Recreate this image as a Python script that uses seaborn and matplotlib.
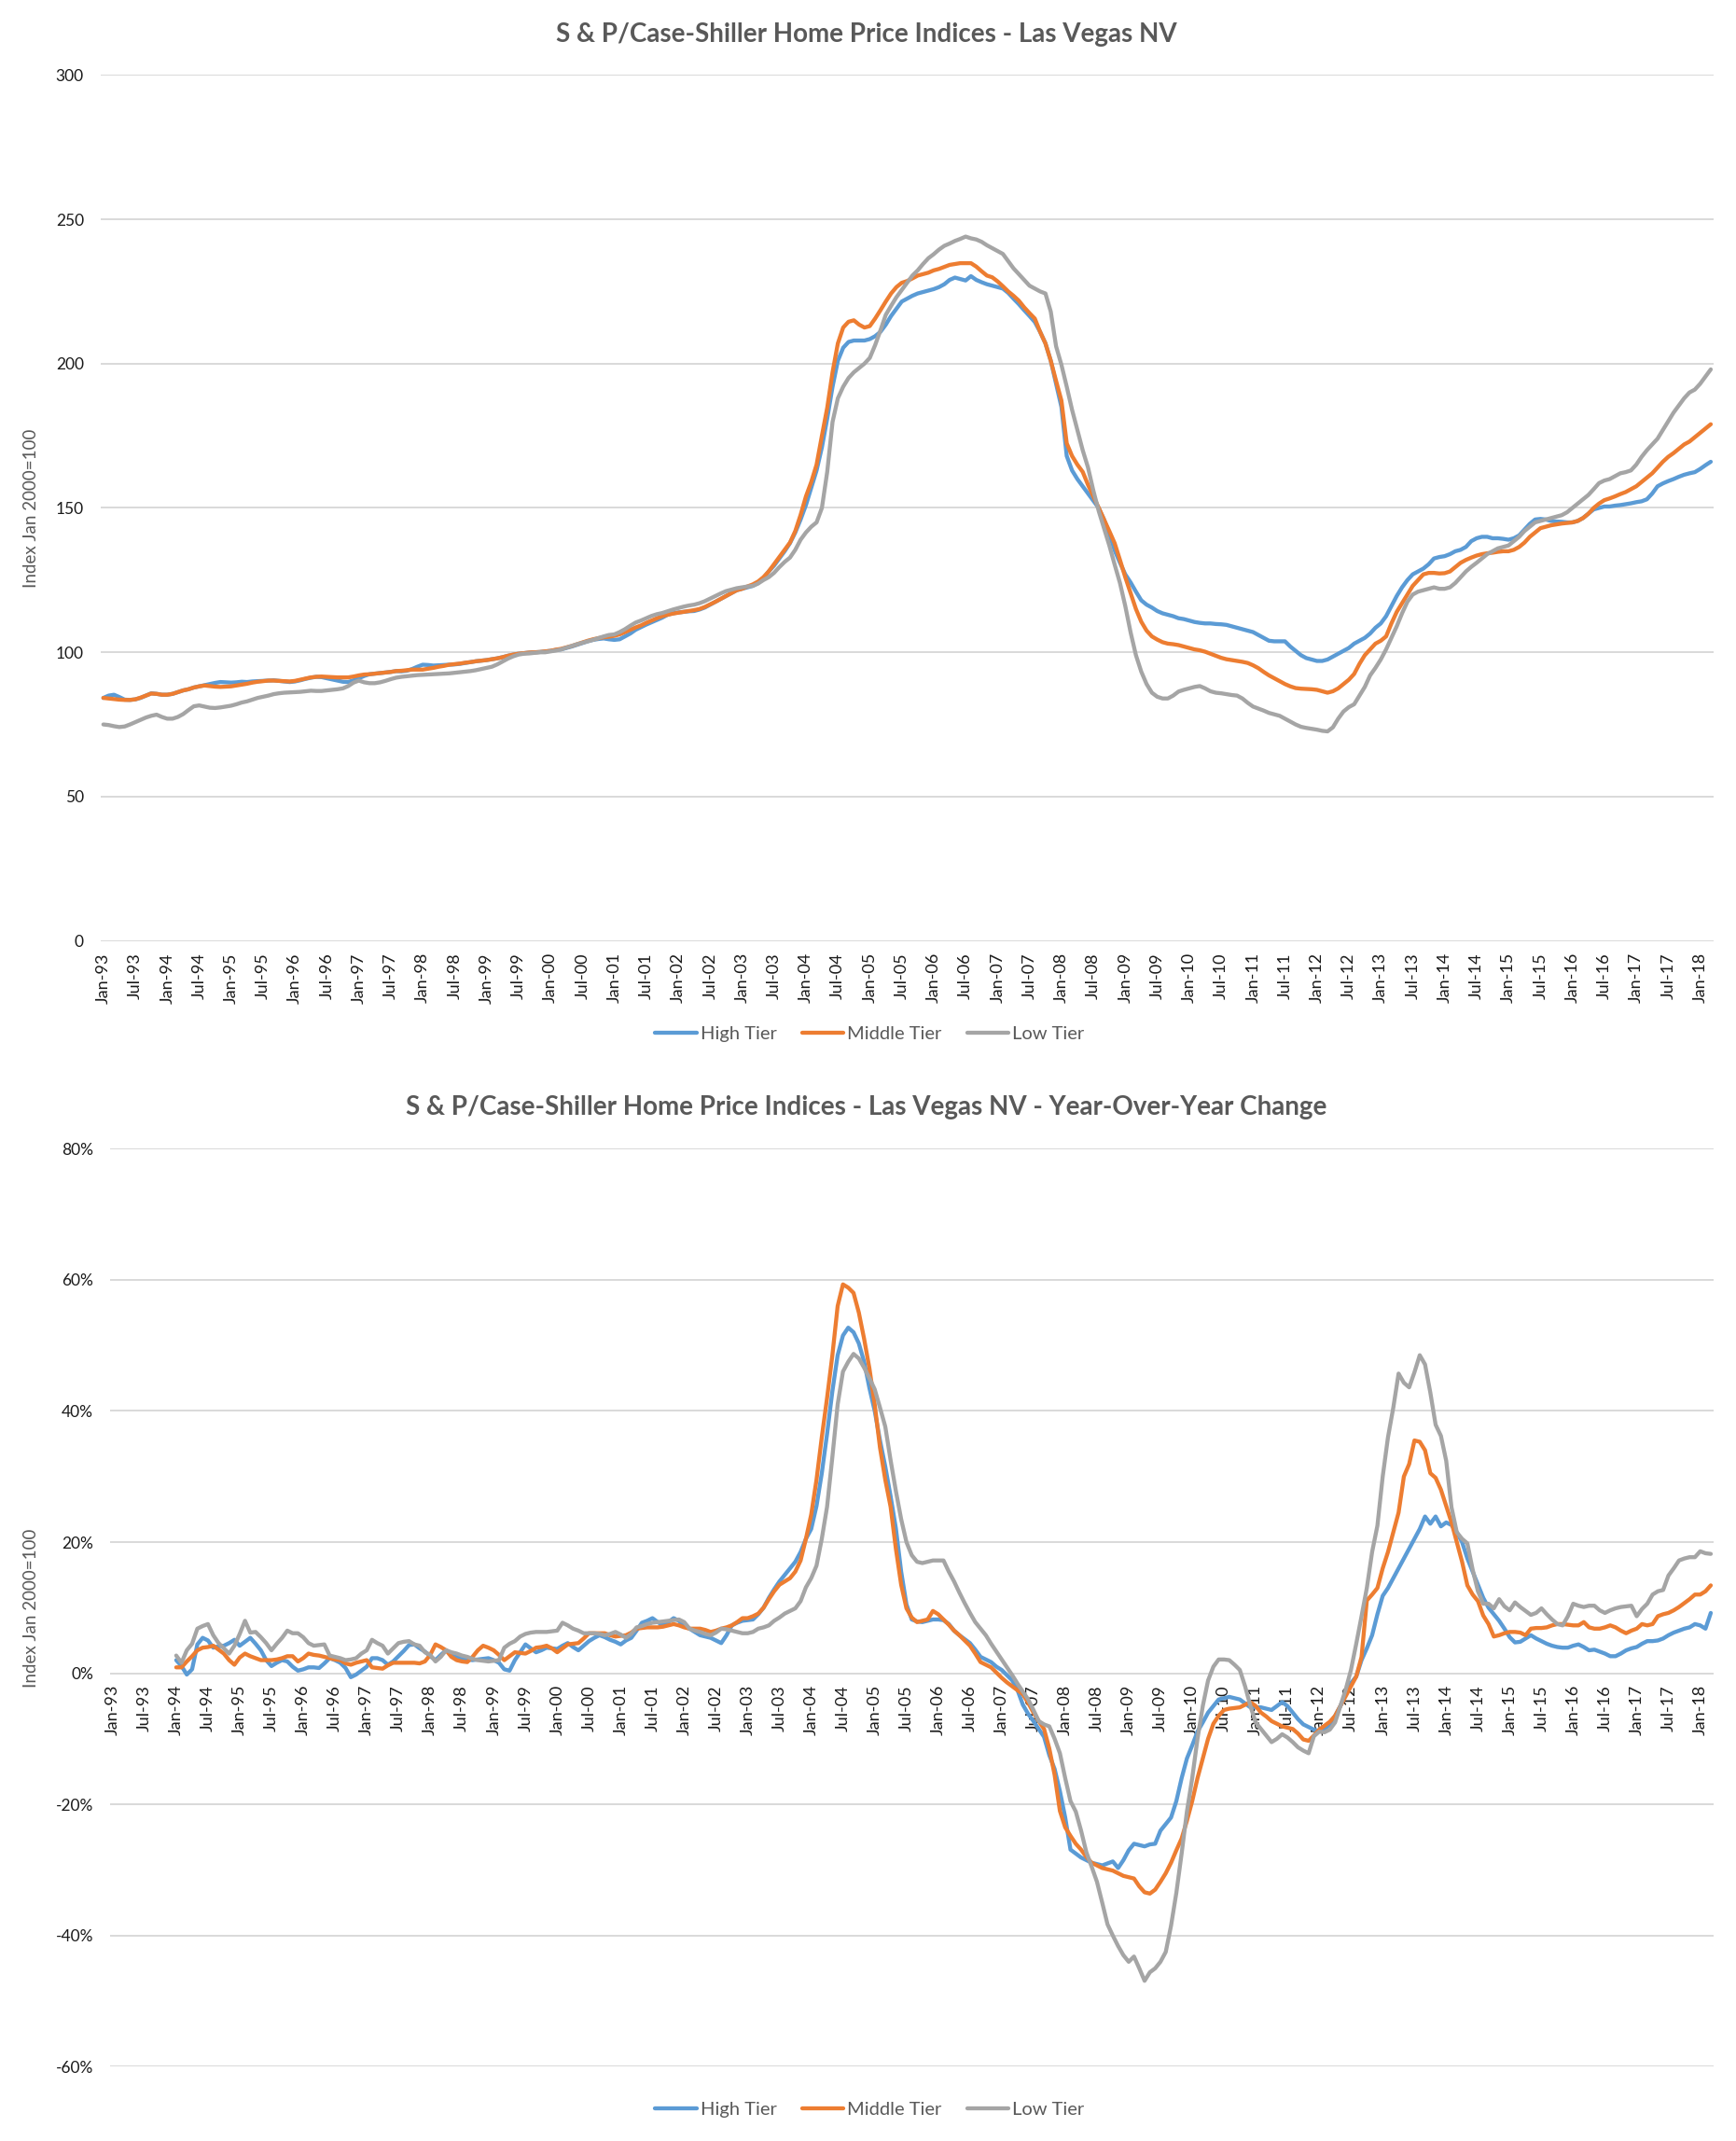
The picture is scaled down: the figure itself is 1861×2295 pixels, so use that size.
import matplotlib
matplotlib.use("Agg")
import matplotlib.pyplot as plt
from matplotlib.lines import Line2D
import seaborn as sns
import pandas as pd

# monthly index values, Jan-93 .. Mar-18
high_tier = [
    84.2, 85.0, 85.3, 84.5, 83.6, 83.5, 83.7, 84.2, 85.0, 85.8, 85.6, 85.3,
    85.3, 85.6, 86.2, 86.8, 87.2, 87.8, 88.2, 88.6, 89.0, 89.4, 89.7, 89.6,
    89.5, 89.6, 89.8, 89.7, 89.9, 90.0, 90.1, 90.2, 90.3, 90.1, 89.9, 89.7,
    89.9, 90.3, 90.8, 91.2, 91.5, 91.4, 91.0, 90.6, 90.2, 89.8, 89.7, 90.3,
    91.0, 91.8, 92.4, 92.6, 92.8, 93.0, 93.2, 93.5, 93.4, 93.6, 94.2, 95.0,
    95.7, 95.6, 95.4, 95.5, 95.6, 95.7, 95.8, 96.0, 96.3, 96.6, 96.9, 97.1,
    97.3, 97.6, 97.9, 98.3, 98.8, 99.2, 99.5, 99.7, 99.9, 100.0, 100.1, 100.3,
    100.5, 100.8, 101.0, 101.5, 102.0, 102.6, 103.2, 103.8, 104.3, 104.6, 104.8, 104.5,
    104.3, 104.5, 105.5, 106.5, 107.8, 108.7, 109.6, 110.4, 111.2, 112.0, 113.0, 113.5,
    113.8, 114.0, 114.2, 114.3, 114.8, 115.5, 116.5, 117.5, 118.5, 119.5, 120.5, 121.5,
    122.0, 122.5, 123.0, 124.0, 125.5, 128.0, 130.0, 132.5, 135.0, 137.8, 141.5, 146.0,
    151.0, 157.0, 163.0, 171.0, 181.0, 192.0, 201.0, 205.5, 207.5, 208.0, 208.0, 208.0,
    208.5, 209.5, 211.0, 213.5, 216.5, 219.0, 221.5, 222.5, 223.5, 224.3, 224.8, 225.3,
    225.8, 226.5, 227.5, 229.0, 229.8, 229.3, 228.8, 230.3, 229.0, 228.2, 227.5, 227.0,
    226.5, 226.0, 224.5, 222.5, 220.6, 218.5, 216.5, 214.4, 211.0, 207.0, 201.0, 193.0,
    185.0, 168.0, 163.0, 160.0, 157.5, 155.0, 152.5, 150.0, 146.0, 141.0, 135.3, 131.0,
    127.0, 124.2, 121.0, 118.0, 116.5, 115.5, 114.3, 113.5, 113.0, 112.5, 111.8, 111.5,
    111.0, 110.5, 110.2, 110.0, 110.0, 109.8, 109.7, 109.5, 109.0, 108.5, 108.0, 107.5,
    107.0, 106.0, 105.0, 104.0, 103.8, 103.8, 103.8, 102.0, 100.5, 99.0, 98.0, 97.5,
    97.0, 97.0, 97.5, 98.5, 99.5, 100.5, 101.5, 103.0, 104.0, 105.0, 106.5, 108.5,
    110.0, 112.5, 116.0, 119.5, 122.5, 125.0, 127.0, 128.0, 129.0, 130.5, 132.5, 133.0,
    133.3, 134.0, 135.0, 135.5, 136.5, 138.5, 139.5, 140.0, 140.0, 139.5, 139.5, 139.3,
    139.0, 139.5, 140.5, 142.5, 144.5, 146.0, 146.2, 146.0, 145.5, 145.3, 145.2, 145.0,
    145.0, 145.5, 146.5, 148.0, 149.5, 150.0, 150.5, 150.5, 150.8, 151.0, 151.3, 151.6,
    152.0, 152.3, 153.0, 155.0, 157.5, 158.5, 159.3, 160.0, 160.8, 161.5, 162.0, 162.4,
    163.5, 164.8, 166.0,
]

middle_tier = [
    84.2, 84.0, 83.8, 83.6, 83.5, 83.5, 83.7, 84.3, 85.0, 85.7, 85.6, 85.3,
    85.3, 85.6, 86.2, 86.8, 87.2, 87.8, 88.2, 88.5, 88.3, 88.1, 88.0, 88.1,
    88.2, 88.5, 88.8, 89.1, 89.5, 89.8, 90.0, 90.2, 90.2, 90.1, 90.0, 89.9,
    90.1, 90.5, 90.9, 91.3, 91.5, 91.6, 91.5, 91.4, 91.3, 91.3, 91.3, 91.6,
    92.0, 92.3, 92.4, 92.6, 92.8, 93.0, 93.2, 93.5, 93.6, 93.8, 94.0, 94.0,
    94.0, 94.3, 94.6, 95.0, 95.3, 95.7, 95.9, 96.1, 96.4, 96.6, 96.9, 97.1,
    97.3, 97.6, 97.9, 98.3, 98.8, 99.2, 99.5, 99.7, 99.9, 100.0, 100.1, 100.3,
    100.5, 100.9, 101.2, 101.7, 102.2, 102.8, 103.4, 104.0, 104.5, 104.9, 105.2, 105.4,
    105.7, 106.2, 107.0, 107.8, 108.6, 109.3, 110.2, 111.0, 111.8, 112.5, 113.0, 113.4,
    113.7, 114.0, 114.3, 114.6, 115.0, 115.7, 116.6, 117.5, 118.5, 119.5, 120.5, 121.5,
    122.0, 122.8, 123.5, 124.5, 126.0, 128.0, 130.5, 133.0, 135.5, 138.0, 142.0, 147.6,
    154.0, 159.0, 165.0, 175.0, 184.7, 197.0, 207.0, 212.5, 214.5, 215.0, 213.5, 212.5,
    213.0, 215.6, 218.5, 221.5, 224.3, 226.5, 228.0, 228.6, 229.5, 230.5, 231.0, 231.5,
    232.3, 232.8, 233.5, 234.2, 234.5, 234.8, 234.8, 234.8, 233.6, 232.0, 230.5, 229.9,
    228.5, 226.8, 225.0, 223.5, 221.8, 219.5, 217.5, 215.6, 211.0, 207.0, 201.0, 194.0,
    187.2, 172.4, 168.0, 165.0, 162.5, 158.0, 154.0, 150.1, 146.0, 142.0, 137.8, 132.0,
    126.0, 120.5, 115.0, 110.6, 107.5, 105.5, 104.4, 103.5, 103.0, 102.8, 102.5, 102.0,
    101.5, 101.0, 100.7, 100.2, 99.5, 98.8, 98.1, 97.6, 97.3, 97.0, 96.7, 96.3,
    95.5, 94.5, 93.2, 92.0, 91.0, 90.0, 89.0, 88.2, 87.6, 87.4, 87.3, 87.2,
    87.0, 86.5, 86.0, 86.5, 87.5, 89.0, 90.5, 92.5, 96.0, 99.0, 101.0, 103.0,
    104.0, 105.5, 110.0, 114.0, 117.0, 120.0, 123.0, 125.0, 127.0, 127.5, 127.5, 127.3,
    127.4, 128.0, 129.5, 131.0, 132.0, 132.8, 133.5, 134.0, 134.3, 134.5, 134.8, 135.0,
    135.0, 135.5, 136.5, 138.0, 140.0, 141.5, 143.0, 143.5, 144.0, 144.3, 144.6, 144.8,
    145.0, 145.5, 146.5, 148.0, 150.0, 151.5, 152.7, 153.3, 154.0, 154.8, 155.5, 156.5,
    157.5, 159.0, 160.5, 162.0, 164.0, 166.0, 167.7, 169.0, 170.5, 172.0, 173.0, 174.5,
    176.0, 177.5, 179.0,
]

low_tier = [
    75.0, 74.8, 74.4, 74.1, 74.3, 75.0, 75.8, 76.6, 77.4, 78.0, 78.4, 77.6,
    77.0, 77.0, 77.6, 78.6, 80.0, 81.3, 81.6, 81.2, 80.8, 80.7, 80.9, 81.2,
    81.5, 82.0, 82.6, 83.0, 83.6, 84.2, 84.6, 85.0, 85.5, 85.8, 86.0, 86.1,
    86.2, 86.3, 86.5, 86.7, 86.6, 86.6, 86.8, 87.0, 87.2, 87.5, 88.3, 89.5,
    90.2, 89.6, 89.3, 89.3, 89.6, 90.1, 90.7, 91.2, 91.5, 91.7, 91.9, 92.1,
    92.2, 92.3, 92.4, 92.5, 92.6, 92.7, 92.9, 93.1, 93.3, 93.5, 93.8, 94.2,
    94.6, 95.0, 95.8, 96.8, 97.8, 98.6, 99.2, 99.5, 99.6, 99.8, 100.0, 100.0,
    100.3, 100.6, 101.0, 101.6, 102.2, 102.8, 103.3, 103.8, 104.3, 104.9, 105.5, 106.0,
    106.2, 107.0, 108.0, 109.2, 110.3, 111.0, 111.8, 112.6, 113.2, 113.6, 114.2, 114.8,
    115.3, 115.8, 116.2, 116.5, 117.0, 117.7, 118.6, 119.5, 120.4, 121.2, 121.7, 122.2,
    122.5, 122.8, 123.0, 123.8, 125.0, 126.0, 127.5, 129.5, 131.3, 132.8, 135.5, 139.0,
    141.5, 143.5, 145.0, 150.0, 162.5, 179.8, 188.0, 192.0, 195.0, 197.0, 198.5, 200.0,
    202.0, 206.4, 211.5, 216.9, 220.0, 223.0, 225.5, 228.0, 230.5, 232.3, 234.5, 236.5,
    237.9, 239.5, 240.8, 241.6, 242.5, 243.2, 244.0, 243.4, 243.0, 242.2, 241.0, 240.0,
    239.0, 238.0, 235.5, 233.0, 231.0, 229.0, 227.0, 226.0, 225.0, 224.3, 218.0, 206.0,
    199.6, 192.0, 184.0, 177.0, 170.0, 164.0, 156.0, 149.0, 143.0, 137.0, 130.4, 124.0,
    116.0, 106.9, 99.0, 93.3, 89.0, 86.0, 84.6, 84.0, 84.0, 85.0, 86.4, 87.0,
    87.5, 88.0, 88.3, 87.5, 86.5, 86.0, 85.8, 85.5, 85.2, 85.0, 84.0, 82.5,
    81.2, 80.5, 79.8, 79.0, 78.5, 78.0, 77.0, 76.0, 75.0, 74.2, 73.8, 73.5,
    73.2, 72.8, 72.6, 74.0, 77.0, 79.5, 81.0, 82.0, 85.0, 88.0, 92.0, 94.6,
    97.5, 101.0, 105.0, 109.0, 113.5, 117.5, 120.0, 121.0, 121.5, 122.0, 122.5, 122.0,
    122.0, 122.5, 124.0, 126.0, 128.0, 129.6, 131.0, 132.5, 134.0, 135.0, 136.0, 136.5,
    137.0, 138.5, 140.0, 142.0, 143.5, 145.0, 145.5, 146.0, 146.5, 147.0, 147.5, 148.5,
    150.0, 151.5, 153.0, 154.5, 156.5, 158.6, 159.5, 160.0, 161.0, 162.0, 162.4, 163.0,
    165.0, 167.7, 170.0, 172.0, 174.0, 177.0, 180.0, 183.0, 185.5, 188.0, 190.0, 191.0,
    193.0, 195.5, 198.0,
]

# year-over-year change in percent, Jan-94 .. Mar-18
high_yoy = [
    2.0, 1.1, -0.2, 0.6, 4.4, 5.4, 5.0, 3.9, 4.1, 4.2, 4.6, 5.1,
    4.2, 4.8, 5.4, 4.5, 3.5, 2.0, 1.1, 1.6, 2.0, 1.8, 1.0, 0.4,
    0.6, 0.9, 0.9, 0.8, 1.5, 2.3, 2.0, 1.6, 0.8, -0.6, -0.2, 0.4,
    1.0, 2.3, 2.3, 2.0, 1.3, 1.8, 2.6, 3.4, 4.3, 4.4, 3.8, 3.3,
    2.6, 2.0, 2.8, 3.5, 3.0, 2.5, 2.3, 2.1, 2.0, 2.1, 2.2, 2.3,
    2.0, 1.6, 0.6, 0.4, 2.0, 3.2, 4.4, 3.8, 3.2, 3.5, 3.9, 3.8,
    3.7, 4.2, 4.6, 4.0, 3.5, 4.2, 4.9, 5.4, 5.8, 5.5, 5.1, 4.8,
    4.4, 5.0, 5.4, 6.5, 7.7, 8.0, 8.4, 7.8, 7.3, 7.8, 8.4, 8.0,
    7.2, 6.8, 6.3, 5.8, 5.6, 5.4, 5.0, 4.6, 5.8, 7.3, 7.7, 8.0,
    8.1, 8.2, 9.0, 10.0, 11.5, 12.8, 14.0, 15.0, 16.0, 17.0, 18.5, 20.5,
    22.0, 25.5, 30.5, 36.5, 43.0, 48.5, 51.5, 52.7, 52.0, 50.3, 47.5, 43.5,
    40.0, 35.5, 31.5, 27.0, 22.1, 15.5, 10.5, 8.2, 7.9, 7.8, 8.0, 8.2,
    8.2, 8.1, 7.5, 6.5, 5.8, 5.2, 4.6, 3.6, 2.5, 2.1, 1.7, 1.0,
    0.5, -0.3, -1.1, -2.6, -4.8, -6.2, -7.3, -8.5, -9.7, -12.5, -14.6, -18.0,
    -22.0, -26.9, -27.5, -28.1, -28.5, -28.9, -29.1, -29.3, -29.0, -28.7, -29.7, -28.5,
    -27.0, -26.0, -26.2, -26.4, -26.1, -26.0, -24.0, -23.0, -22.0, -19.5, -16.0, -13.0,
    -11.0, -8.9, -7.5, -6.0, -5.0, -4.0, -3.8, -3.6, -3.8, -4.0, -4.6, -5.2,
    -5.2, -5.2, -5.4, -5.6, -5.0, -4.4, -5.0, -6.0, -7.0, -7.8, -8.2, -8.6,
    -8.8, -8.5, -7.8, -6.5, -5.0, -3.2, -1.5, -0.5, 2.0, 3.8, 5.8, 9.0,
    11.8, 13.0, 14.5, 16.0, 17.5, 19.0, 20.5, 22.0, 23.9, 22.8, 23.9, 22.4,
    23.0, 22.6, 21.5, 20.0, 17.5, 15.5, 13.5, 11.5, 10.0, 9.0, 8.0, 6.8,
    5.5, 4.7, 4.8, 5.3, 5.8, 5.3, 4.9, 4.5, 4.2, 4.0, 3.9, 3.9,
    4.2, 4.4, 4.0, 3.5, 3.6, 3.3, 3.0, 2.6, 2.6, 3.0, 3.5, 3.8,
    4.0, 4.5, 4.9, 4.9, 5.0, 5.3, 5.8, 6.2, 6.5, 6.8, 7.0, 7.5,
    7.3, 6.8, 9.2,
]

middle_yoy = [
    0.9, 0.9, 1.8, 2.6, 3.5, 3.9, 4.0, 4.2, 3.6, 3.0, 2.0, 1.3,
    2.4, 3.0, 2.6, 2.3, 2.0, 2.0, 2.0, 2.1, 2.3, 2.6, 2.6, 1.8,
    2.3, 3.0, 2.8, 2.7, 2.5, 2.3, 2.1, 2.0, 1.5, 1.3, 1.6, 1.8,
    2.0, 0.9, 0.8, 0.7, 1.2, 1.6, 1.6, 1.6, 1.6, 1.6, 1.5, 1.8,
    2.8, 4.4, 4.0, 3.5, 2.5, 2.0, 1.8, 1.7, 2.5, 3.5, 4.2, 3.9,
    3.5, 2.8, 2.0, 2.6, 3.2, 3.1, 3.0, 3.4, 3.9, 4.0, 4.2, 3.8,
    3.2, 3.8, 4.4, 4.5, 4.6, 5.3, 6.1, 6.1, 6.1, 6.1, 5.8, 5.6,
    5.7, 5.8, 6.2, 6.8, 6.9, 7.0, 7.0, 7.0, 7.1, 7.3, 7.5, 7.3,
    7.0, 6.8, 6.8, 6.8, 6.6, 6.3, 6.5, 6.8, 7.0, 7.3, 7.8, 8.4,
    8.4, 8.7, 9.1, 10.0, 11.3, 12.5, 13.5, 14.0, 14.5, 15.5, 17.2, 20.5,
    24.2, 29.5, 36.0, 42.0, 48.5, 56.0, 59.3, 58.8, 58.0, 55.0, 51.0, 46.5,
    41.0, 34.4, 29.5, 25.4, 19.0, 13.5, 9.9, 8.5, 7.8, 8.0, 8.2, 9.5,
    9.0, 8.2, 7.4, 6.5, 5.8, 5.0, 4.2, 3.0, 1.7, 1.3, 0.9, 0.1,
    -0.7, -1.4, -2.0, -2.6, -3.2, -4.5, -6.0, -7.3, -8.5, -11.5, -15.5, -21.0,
    -23.5, -24.8, -26.0, -26.9, -28.0, -28.9, -29.3, -29.7, -29.9, -30.1, -30.5, -30.9,
    -31.1, -31.3, -32.5, -33.4, -33.6, -33.0, -31.8, -30.5, -28.9, -27.0, -25.2, -22.5,
    -19.5, -16.0, -13.0, -10.0, -7.7, -6.5, -5.6, -5.4, -5.3, -5.2, -4.8, -4.4,
    -5.0, -6.0, -6.6, -7.3, -7.7, -8.1, -8.3, -8.5, -9.2, -10.1, -10.3, -9.5,
    -8.6, -8.0, -7.4, -6.5, -5.0, -3.5, -2.0, -0.5, 2.5, 11.1, 12.0, 13.0,
    16.0, 18.5, 21.5, 24.5, 30.0, 31.9, 35.5, 35.3, 34.0, 30.5, 29.8, 28.0,
    25.5, 23.0, 20.0, 17.0, 13.4, 12.0, 11.0, 8.8, 7.5, 5.6, 5.8, 6.1,
    6.3, 6.3, 6.2, 5.8, 6.8, 6.9, 6.9, 7.0, 7.3, 7.5, 7.5, 7.4,
    7.3, 7.3, 7.8, 7.0, 6.8, 6.8, 7.0, 7.3, 7.0, 6.5, 6.1, 6.5,
    6.8, 7.5, 7.3, 7.5, 8.7, 9.0, 9.2, 9.6, 10.1, 10.7, 11.3, 12.0,
    12.0, 12.5, 13.4,
]

low_yoy = [
    2.7, 1.6, 3.5, 4.5, 6.8, 7.2, 7.5, 5.8, 4.6, 3.8, 3.0, 4.2,
    6.0, 8.0, 6.2, 6.3, 5.5, 4.6, 3.5, 4.5, 5.4, 6.5, 6.1, 6.1,
    5.5, 4.6, 4.2, 4.3, 4.4, 2.7, 2.5, 2.3, 2.0, 2.1, 2.3, 3.0,
    3.5, 5.1, 4.6, 4.2, 3.0, 3.8, 4.6, 4.8, 4.9, 4.4, 4.2, 3.2,
    2.8, 1.8, 2.5, 3.5, 3.2, 3.0, 2.7, 2.5, 2.2, 2.0, 1.9, 1.8,
    1.9, 2.0, 3.9, 4.5, 4.9, 5.6, 6.0, 6.2, 6.3, 6.3, 6.3, 6.4,
    6.5, 7.7, 7.3, 6.8, 6.5, 6.1, 6.1, 6.1, 6.0, 5.8, 6.0, 6.3,
    5.9, 5.4, 6.0, 7.0, 7.2, 7.5, 7.7, 7.8, 7.9, 8.0, 8.1, 8.2,
    7.8, 6.8, 6.5, 6.3, 6.0, 5.8, 6.2, 6.8, 6.7, 6.5, 6.3, 6.1,
    6.1, 6.3, 6.8, 7.0, 7.3, 8.0, 8.5, 9.1, 9.5, 9.9, 11.0, 13.1,
    14.5, 16.4, 20.5, 25.4, 33.0, 41.0, 46.0, 47.5, 48.7, 48.0, 46.6, 45.0,
    43.3, 40.5, 37.6, 32.5, 27.8, 23.5, 20.0, 18.0, 17.0, 16.8, 17.0, 17.2,
    17.2, 17.2, 15.5, 14.0, 12.3, 10.7, 9.2, 7.8, 6.8, 5.8, 4.5, 3.3,
    2.1, 0.9, -0.3, -1.6, -2.8, -4.0, -5.6, -7.3, -7.8, -8.1, -10.0, -12.2,
    -16.0, -19.5, -21.1, -24.0, -27.3, -29.5, -31.8, -35.0, -38.3, -40.0, -41.6, -43.0,
    -44.0, -43.2, -45.0, -46.9, -45.6, -45.0, -44.0, -42.5, -38.5, -33.5, -27.5, -21.1,
    -16.0, -10.0, -5.0, -1.1, 1.0, 2.1, 2.1, 2.0, 1.3, 0.5, -2.0, -5.0,
    -7.5, -8.5, -9.5, -10.5, -10.0, -9.3, -9.8, -10.5, -11.3, -11.8, -12.2, -9.6,
    -8.9, -9.0, -8.6, -7.5, -5.0, -2.5, 0.5, 4.5, 8.7, 13.0, 18.5, 22.5,
    30.0, 36.0, 40.5, 45.7, 44.3, 43.6, 45.9, 48.5, 47.1, 42.8, 37.9, 36.2,
    32.4, 25.3, 21.5, 20.5, 19.8, 15.8, 12.5, 10.6, 10.6, 9.9, 11.3, 10.2,
    9.6, 10.8, 10.1, 9.5, 8.9, 9.2, 9.9, 9.0, 8.2, 7.5, 7.3, 8.7,
    10.6, 10.3, 10.1, 10.3, 10.3, 9.6, 9.2, 9.6, 9.9, 10.1, 10.2, 10.3,
    8.7, 9.8, 10.6, 12.0, 12.5, 12.7, 14.9, 16.0, 17.2, 17.5, 17.7, 17.7,
    18.6, 18.3, 18.2,
]

tiers = ["High Tier", "Middle Tier", "Low Tier"]
colors = {"High Tier": "#5B9BD5", "Middle Tier": "#ED7D31", "Low Tier": "#A5A5A5"}
pct_ticks = [80, 60, 40, 20, 0, -20, -40, -60]
pct_labels = ["80%", "60%", "40%", "20%", "0%", "-20%", "-40%", "-60%"]

months = pd.date_range("1993-01-01", periods=len(high_tier), freq="MS")
month_labels = [m.strftime("%b-%y") for m in months]

idx_df = pd.concat([
    pd.DataFrame({"month": range(len(v)), "value": v, "tier": t})
    for t, v in zip(tiers, [high_tier, middle_tier, low_tier])
])
yoy_df = pd.concat([
    pd.DataFrame({"month": range(12, 12 + len(v)), "value": v, "tier": t})
    for t, v in zip(tiers, [high_yoy, middle_yoy, low_yoy])
])

sns.set_theme(style="white")
plt.rcParams["font.family"] = ["Lato", "DejaVu Sans"]
plt.rcParams["axes.unicode_minus"] = False

fig = plt.figure(figsize=(18.61, 22.95), dpi=100)
ax1 = fig.add_axes([0.058, 0.5605, 0.929, 0.4045])
ax2 = fig.add_axes([0.0634, 0.0347, 0.9236, 0.4288])

title_c = "#595959"
tick_c = "#1a1a1a"
grid_c = "#D9D9D9"
lw = 3.1


def style_axis(ax, label_x):
    for s in ax.spines.values():
        s.set_visible(False)
    ax.grid(axis="y", color=grid_c, linewidth=1.4)
    ax.grid(axis="x", visible=False)
    ax.set_axisbelow(True)
    ax.set_xlim(-0.5, 302.5)
    ticks = list(range(0, len(month_labels), 6))
    ax.set_xticks(ticks)
    ax.set_xticklabels([month_labels[i] for i in ticks], rotation=90,
                       fontsize=13, color=tick_c)
    ax.tick_params(axis="both", length=0, labelcolor=tick_c)
    ax.tick_params(axis="x", pad=9, labelsize=13)
    ax.tick_params(axis="y", pad=13, labelsize=12.5)
    ax.set_xlabel("")
    ax.set_ylabel("Index Jan 2000=100", fontsize=13.5, color=title_c)
    ax.yaxis.set_label_coords(label_x, 0.5)


sns.lineplot(data=idx_df, x="month", y="value", hue="tier", palette=colors,
             linewidth=lw, estimator=None, sort=False, legend=False, ax=ax1)
style_axis(ax1, -0.038)
ax1.set_ylim(0, 300)
ax1.set_yticks([0, 50, 100, 150, 200, 250, 300])

sns.lineplot(data=yoy_df, x="month", y="value", hue="tier", palette=colors,
             linewidth=lw, estimator=None, sort=False, legend=False, ax=ax2)
# x labels of the change chart sit on the 0% line
ax2.spines["bottom"].set_position(("data", 0))
style_axis(ax2, -0.044)
ax2.set_ylim(-60, 80)
ax2.set_yticks(pct_ticks)
ax2.set_yticklabels(pct_labels)

fig.text(0.499, 0.984, "S & P/Case-Shiller Home Price Indices - Las Vegas NV",
         ha="center", va="center", fontsize=20, fontweight="bold", color=title_c)
fig.text(0.499, 0.483,
         "S & P/Case-Shiller Home Price Indices - Las Vegas NV - Year-Over-Year Change",
         ha="center", va="center", fontsize=20, fontweight="bold", color=title_c)

handles = [Line2D([0], [0], color=colors[t], linewidth=lw) for t in tiers]
for ax, ly in [(ax1, 0.5168), (ax2, 0.0147)]:
    ax.legend(handles, tiers, loc="center", bbox_to_anchor=(0.501, ly),
              bbox_transform=fig.transFigure, ncol=3, frameon=False,
              fontsize=14.5, labelcolor=title_c, handlelength=2.2,
              handletextpad=0.2, columnspacing=1.35)

fig.savefig("out.png", dpi=100)
